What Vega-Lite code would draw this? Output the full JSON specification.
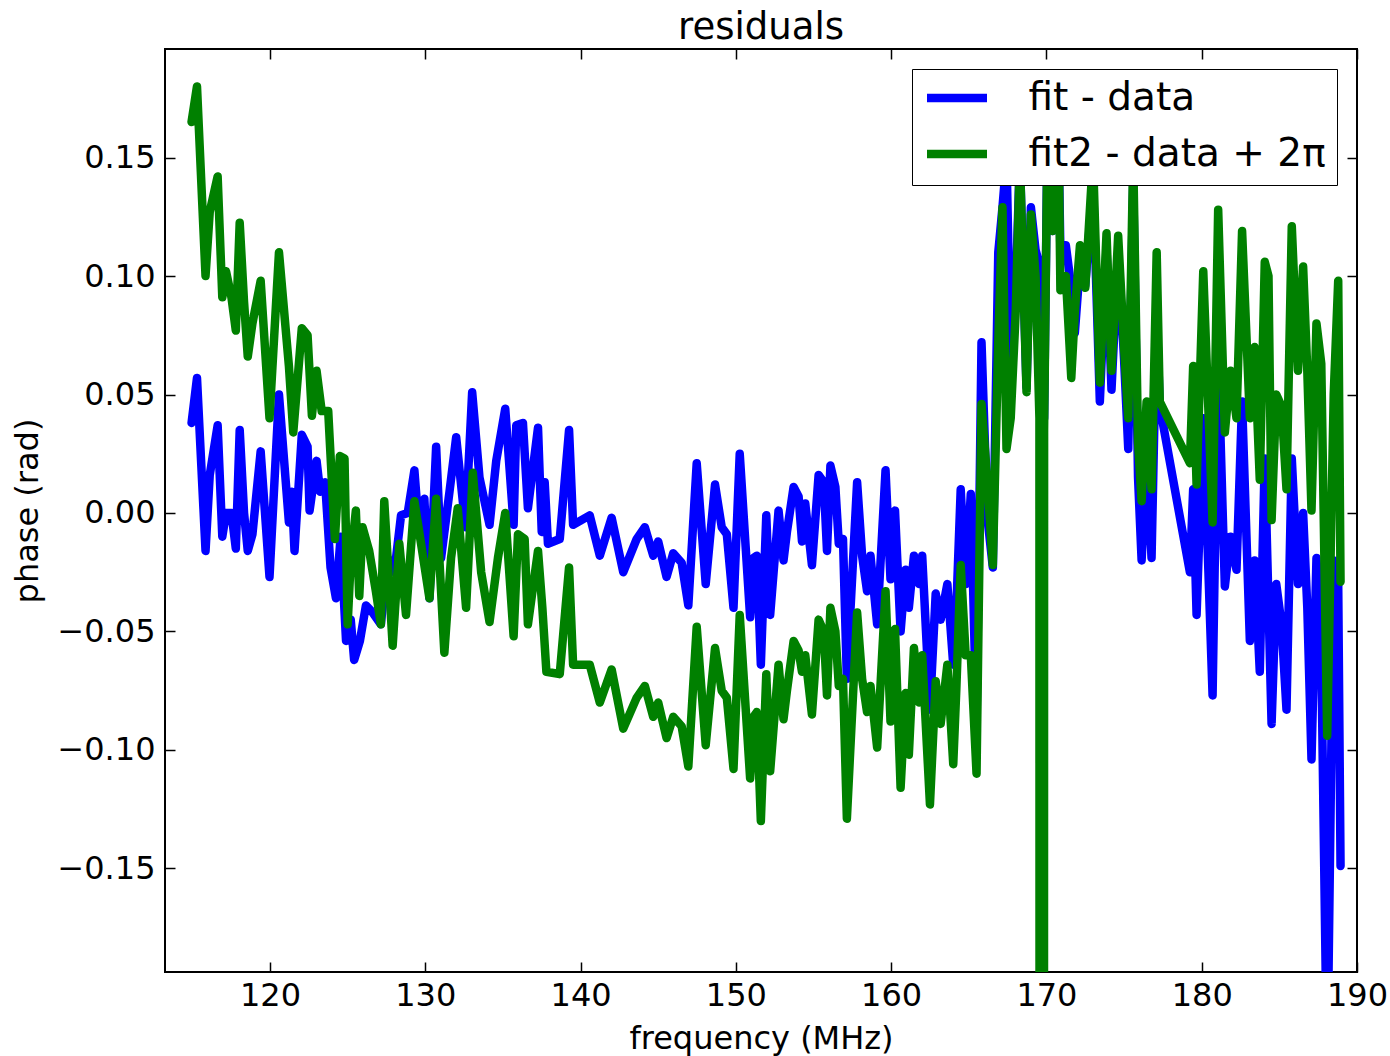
{
"$schema":"https://vega.github.io/schema/vega-lite/v6.json",
"width":1192,"height":923,
"autosize":{"type":"none"},
"padding":{"left":165,"top":49,"right":33,"bottom":84},
"background":"white",
"title":{"text":"residuals","fontSize":37,"fontWeight":"normal","font":"DejaVu Sans","color":"black","offset":1,"anchor":"middle"},
"config":{"view":{"stroke":"black","strokeWidth":2},"font":"DejaVu Sans","axis":{"labelFont":"DejaVu Sans","titleFont":"DejaVu Sans"}},
"data":{"values":[
{"freq":114.95,"series":"fit - data","phase":0.038},{"freq":115.3,"series":"fit - data","phase":0.057},{"freq":115.85,"series":"fit - data","phase":-0.016},{"freq":116.12,"series":"fit - data","phase":0.016},{"freq":116.63,"series":"fit - data","phase":0.037},{"freq":116.93,"series":"fit - data","phase":-0.010},{"freq":117.17,"series":"fit - data","phase":0.000},{"freq":117.52,"series":"fit - data","phase":0.000},{"freq":117.8,"series":"fit - data","phase":-0.015},{"freq":118.05,"series":"fit - data","phase":0.035},{"freq":118.33,"series":"fit - data","phase":0.000},{"freq":118.57,"series":"fit - data","phase":-0.016},{"freq":118.87,"series":"fit - data","phase":-0.009},{"freq":119.4,"series":"fit - data","phase":0.026},{"freq":119.97,"series":"fit - data","phase":-0.027},{"freq":120.58,"series":"fit - data","phase":0.050},{"freq":121.22,"series":"fit - data","phase":-0.004},{"freq":121.4,"series":"fit - data","phase":0.009},{"freq":121.58,"series":"fit - data","phase":-0.016},{"freq":122.05,"series":"fit - data","phase":0.033},{"freq":122.42,"series":"fit - data","phase":0.028},{"freq":122.55,"series":"fit - data","phase":0.001},{"freq":123.0,"series":"fit - data","phase":0.022},{"freq":123.23,"series":"fit - data","phase":0.009},{"freq":123.55,"series":"fit - data","phase":0.013},{"freq":123.9,"series":"fit - data","phase":-0.023},{"freq":124.25,"series":"fit - data","phase":-0.036},{"freq":124.55,"series":"fit - data","phase":-0.010},{"freq":124.9,"series":"fit - data","phase":-0.054},{"freq":125.2,"series":"fit - data","phase":-0.045},{"freq":125.42,"series":"fit - data","phase":-0.062},{"freq":125.79,"series":"fit - data","phase":-0.054},{"freq":126.18,"series":"fit - data","phase":-0.039},{"freq":126.61,"series":"fit - data","phase":-0.042},{"freq":127.14,"series":"fit - data","phase":-0.047},{"freq":127.58,"series":"fit - data","phase":-0.019},{"freq":128.01,"series":"fit - data","phase":-0.025},{"freq":128.44,"series":"fit - data","phase":-0.001},{"freq":128.87,"series":"fit - data","phase":0.000},{"freq":129.3,"series":"fit - data","phase":0.018},{"freq":129.62,"series":"fit - data","phase":-0.009},{"freq":129.94,"series":"fit - data","phase":0.006},{"freq":130.27,"series":"fit - data","phase":-0.036},{"freq":130.7,"series":"fit - data","phase":0.028},{"freq":131.02,"series":"fit - data","phase":-0.019},{"freq":131.56,"series":"fit - data","phase":0.009},{"freq":131.99,"series":"fit - data","phase":0.032},{"freq":132.59,"series":"fit - data","phase":-0.006},{"freq":133.02,"series":"fit - data","phase":0.051},{"freq":133.49,"series":"fit - data","phase":0.015},{"freq":134.14,"series":"fit - data","phase":-0.005},{"freq":134.57,"series":"fit - data","phase":0.022},{"freq":135.15,"series":"fit - data","phase":0.044},{"freq":135.69,"series":"fit - data","phase":-0.005},{"freq":135.86,"series":"fit - data","phase":0.037},{"freq":136.29,"series":"fit - data","phase":0.038},{"freq":136.61,"series":"fit - data","phase":0.002},{"freq":137.26,"series":"fit - data","phase":0.036},{"freq":137.5,"series":"fit - data","phase":-0.008},{"freq":137.69,"series":"fit - data","phase":0.013},{"freq":137.9,"series":"fit - data","phase":-0.013},{"freq":138.66,"series":"fit - data","phase":-0.011},{"freq":139.26,"series":"fit - data","phase":0.035},{"freq":139.52,"series":"fit - data","phase":-0.005},{"freq":140.59,"series":"fit - data","phase":-0.001},{"freq":141.24,"series":"fit - data","phase":-0.018},{"freq":142.0,"series":"fit - data","phase":-0.002},{"freq":142.75,"series":"fit - data","phase":-0.025},{"freq":143.61,"series":"fit - data","phase":-0.011},{"freq":144.14,"series":"fit - data","phase":-0.006},{"freq":144.68,"series":"fit - data","phase":-0.018},{"freq":145.0,"series":"fit - data","phase":-0.012},{"freq":145.54,"series":"fit - data","phase":-0.027},{"freq":145.97,"series":"fit - data","phase":-0.017},{"freq":146.51,"series":"fit - data","phase":-0.021},{"freq":146.94,"series":"fit - data","phase":-0.039},{"freq":147.48,"series":"fit - data","phase":0.021},{"freq":148.06,"series":"fit - data","phase":-0.030},{"freq":148.66,"series":"fit - data","phase":0.012},{"freq":149.09,"series":"fit - data","phase":-0.006},{"freq":149.42,"series":"fit - data","phase":-0.009},{"freq":149.85,"series":"fit - data","phase":-0.040},{"freq":150.25,"series":"fit - data","phase":0.025},{"freq":150.92,"series":"fit - data","phase":-0.044},{"freq":151.14,"series":"fit - data","phase":-0.019},{"freq":151.35,"series":"fit - data","phase":-0.018},{"freq":151.61,"series":"fit - data","phase":-0.064},{"freq":151.96,"series":"fit - data","phase":-0.001},{"freq":152.21,"series":"fit - data","phase":-0.043},{"freq":152.75,"series":"fit - data","phase":0.001},{"freq":153.07,"series":"fit - data","phase":-0.020},{"freq":153.29,"series":"fit - data","phase":-0.008},{"freq":153.72,"series":"fit - data","phase":0.011},{"freq":154.04,"series":"fit - data","phase":0.007},{"freq":154.26,"series":"fit - data","phase":-0.012},{"freq":154.47,"series":"fit - data","phase":0.004},{"freq":154.9,"series":"fit - data","phase":-0.022},{"freq":155.33,"series":"fit - data","phase":0.016},{"freq":155.66,"series":"fit - data","phase":0.013},{"freq":155.87,"series":"fit - data","phase":-0.016},{"freq":156.09,"series":"fit - data","phase":0.020},{"freq":156.41,"series":"fit - data","phase":0.011},{"freq":156.63,"series":"fit - data","phase":-0.013},{"freq":156.9,"series":"fit - data","phase":-0.011},{"freq":157.15,"series":"fit - data","phase":-0.070},{"freq":157.81,"series":"fit - data","phase":0.013},{"freq":158.13,"series":"fit - data","phase":-0.018},{"freq":158.45,"series":"fit - data","phase":-0.033},{"freq":158.67,"series":"fit - data","phase":-0.018},{"freq":159.1,"series":"fit - data","phase":-0.047},{"freq":159.64,"series":"fit - data","phase":0.018},{"freq":159.96,"series":"fit - data","phase":-0.028},{"freq":160.25,"series":"fit - data","phase":0.001},{"freq":160.61,"series":"fit - data","phase":-0.050},{"freq":160.93,"series":"fit - data","phase":-0.024},{"freq":161.14,"series":"fit - data","phase":-0.040},{"freq":161.47,"series":"fit - data","phase":-0.018},{"freq":161.8,"series":"fit - data","phase":-0.030},{"freq":162.0,"series":"fit - data","phase":-0.018},{"freq":162.5,"series":"fit - data","phase":-0.083},{"freq":162.87,"series":"fit - data","phase":-0.034},{"freq":163.19,"series":"fit - data","phase":-0.045},{"freq":163.62,"series":"fit - data","phase":-0.030},{"freq":164.0,"series":"fit - data","phase":-0.064},{"freq":164.2,"series":"fit - data","phase":-0.040},{"freq":164.48,"series":"fit - data","phase":0.010},{"freq":164.8,"series":"fit - data","phase":-0.030},{"freq":165.13,"series":"fit - data","phase":0.008},{"freq":165.5,"series":"fit - data","phase":-0.090},{"freq":165.82,"series":"fit - data","phase":0.072},{"freq":166.2,"series":"fit - data","phase":-0.002},{"freq":166.55,"series":"fit - data","phase":-0.023},{"freq":166.9,"series":"fit - data","phase":0.110},{"freq":167.17,"series":"fit - data","phase":0.129},{"freq":167.43,"series":"fit - data","phase":0.150},{"freq":167.7,"series":"fit - data","phase":0.063},{"freq":168.03,"series":"fit - data","phase":0.095},{"freq":168.29,"series":"fit - data","phase":0.150},{"freq":168.72,"series":"fit - data","phase":0.053},{"freq":169.0,"series":"fit - data","phase":0.129},{"freq":169.3,"series":"fit - data","phase":0.111},{"freq":169.55,"series":"fit - data","phase":0.105},{"freq":169.7,"series":"fit - data","phase":0.050},{"freq":169.85,"series":"fit - data","phase":0.040},{"freq":170.05,"series":"fit - data","phase":0.150},{"freq":170.4,"series":"fit - data","phase":0.119},{"freq":170.8,"series":"fit - data","phase":0.150},{"freq":170.9,"series":"fit - data","phase":0.110},{"freq":171.25,"series":"fit - data","phase":0.113},{"freq":171.6,"series":"fit - data","phase":0.095},{"freq":171.83,"series":"fit - data","phase":0.076},{"freq":172.16,"series":"fit - data","phase":0.105},{"freq":172.5,"series":"fit - data","phase":0.096},{"freq":173.0,"series":"fit - data","phase":0.140},{"freq":173.44,"series":"fit - data","phase":0.047},{"freq":173.87,"series":"fit - data","phase":0.112},{"freq":174.19,"series":"fit - data","phase":0.052},{"freq":174.62,"series":"fit - data","phase":0.110},{"freq":175.0,"series":"fit - data","phase":0.065},{"freq":175.27,"series":"fit - data","phase":0.027},{"freq":175.59,"series":"fit - data","phase":0.140},{"freq":175.9,"series":"fit - data","phase":0.015},{"freq":176.13,"series":"fit - data","phase":-0.020},{"freq":176.45,"series":"fit - data","phase":0.025},{"freq":176.77,"series":"fit - data","phase":-0.019},{"freq":177.1,"series":"fit - data","phase":0.085},{"freq":177.3,"series":"fit - data","phase":0.045},{"freq":179.24,"series":"fit - data","phase":-0.025},{"freq":179.45,"series":"fit - data","phase":0.010},{"freq":179.67,"series":"fit - data","phase":-0.043},{"freq":180.1,"series":"fit - data","phase":0.040},{"freq":180.7,"series":"fit - data","phase":-0.077},{"freq":181.06,"series":"fit - data","phase":0.066},{"freq":181.49,"series":"fit - data","phase":-0.031},{"freq":181.85,"series":"fit - data","phase":-0.010},{"freq":182.24,"series":"fit - data","phase":-0.024},{"freq":182.6,"series":"fit - data","phase":0.047},{"freq":183.1,"series":"fit - data","phase":-0.054},{"freq":183.4,"series":"fit - data","phase":-0.020},{"freq":183.74,"series":"fit - data","phase":-0.067},{"freq":184.06,"series":"fit - data","phase":0.023},{"freq":184.5,"series":"fit - data","phase":-0.089},{"freq":184.8,"series":"fit - data","phase":-0.030},{"freq":185.14,"series":"fit - data","phase":-0.047},{"freq":185.46,"series":"fit - data","phase":-0.083},{"freq":185.8,"series":"fit - data","phase":0.023},{"freq":186.2,"series":"fit - data","phase":-0.030},{"freq":186.53,"series":"fit - data","phase":0.000},{"freq":186.8,"series":"fit - data","phase":-0.040},{"freq":187.07,"series":"fit - data","phase":-0.104},{"freq":187.39,"series":"fit - data","phase":-0.019},{"freq":187.7,"series":"fit - data","phase":-0.060},{"freq":188.08,"series":"fit - data","phase":-0.240},{"freq":188.5,"series":"fit - data","phase":-0.020},{"freq":188.79,"series":"fit - data","phase":-0.030},{"freq":188.94,"series":"fit - data","phase":-0.149},
{"freq":114.95,"series":"fit2 - data + 2π","phase":0.165},{"freq":115.3,"series":"fit2 - data + 2π","phase":0.180},{"freq":115.85,"series":"fit2 - data + 2π","phase":0.100},{"freq":116.12,"series":"fit2 - data + 2π","phase":0.127},{"freq":116.63,"series":"fit2 - data + 2π","phase":0.142},{"freq":116.93,"series":"fit2 - data + 2π","phase":0.091},{"freq":117.17,"series":"fit2 - data + 2π","phase":0.102},{"freq":117.52,"series":"fit2 - data + 2π","phase":0.091},{"freq":117.8,"series":"fit2 - data + 2π","phase":0.077},{"freq":118.05,"series":"fit2 - data + 2π","phase":0.1225},{"freq":118.33,"series":"fit2 - data + 2π","phase":0.089},{"freq":118.57,"series":"fit2 - data + 2π","phase":0.066},{"freq":118.87,"series":"fit2 - data + 2π","phase":0.080},{"freq":119.4,"series":"fit2 - data + 2π","phase":0.098},{"freq":119.97,"series":"fit2 - data + 2π","phase":0.040},{"freq":120.58,"series":"fit2 - data + 2π","phase":0.110},{"freq":121.22,"series":"fit2 - data + 2π","phase":0.062},{"freq":121.5,"series":"fit2 - data + 2π","phase":0.034},{"freq":122.05,"series":"fit2 - data + 2π","phase":0.078},{"freq":122.42,"series":"fit2 - data + 2π","phase":0.075},{"freq":122.7,"series":"fit2 - data + 2π","phase":0.041},{"freq":123.0,"series":"fit2 - data + 2π","phase":0.060},{"freq":123.33,"series":"fit2 - data + 2π","phase":0.043},{"freq":123.75,"series":"fit2 - data + 2π","phase":0.043},{"freq":124.18,"series":"fit2 - data + 2π","phase":-0.011},{"freq":124.5,"series":"fit2 - data + 2π","phase":0.024},{"freq":124.8,"series":"fit2 - data + 2π","phase":0.023},{"freq":125.0,"series":"fit2 - data + 2π","phase":-0.047},{"freq":125.2,"series":"fit2 - data + 2π","phase":-0.020},{"freq":125.53,"series":"fit2 - data + 2π","phase":0.001},{"freq":125.75,"series":"fit2 - data + 2π","phase":-0.035},{"freq":125.96,"series":"fit2 - data + 2π","phase":-0.006},{"freq":126.39,"series":"fit2 - data + 2π","phase":-0.016},{"freq":126.82,"series":"fit2 - data + 2π","phase":-0.033},{"freq":127.14,"series":"fit2 - data + 2π","phase":-0.047},{"freq":127.36,"series":"fit2 - data + 2π","phase":0.005},{"freq":127.9,"series":"fit2 - data + 2π","phase":-0.056},{"freq":128.33,"series":"fit2 - data + 2π","phase":-0.013},{"freq":128.76,"series":"fit2 - data + 2π","phase":-0.043},{"freq":129.3,"series":"fit2 - data + 2π","phase":0.005},{"freq":129.73,"series":"fit2 - data + 2π","phase":-0.013},{"freq":130.27,"series":"fit2 - data + 2π","phase":-0.036},{"freq":130.7,"series":"fit2 - data + 2π","phase":0.006},{"freq":131.23,"series":"fit2 - data + 2π","phase":-0.059},{"freq":131.66,"series":"fit2 - data + 2π","phase":-0.019},{"freq":132.09,"series":"fit2 - data + 2π","phase":0.002},{"freq":132.63,"series":"fit2 - data + 2π","phase":-0.040},{"freq":133.06,"series":"fit2 - data + 2π","phase":0.017},{"freq":133.6,"series":"fit2 - data + 2π","phase":-0.025},{"freq":134.14,"series":"fit2 - data + 2π","phase":-0.046},{"freq":134.68,"series":"fit2 - data + 2π","phase":-0.019},{"freq":135.15,"series":"fit2 - data + 2π","phase":0.000},{"freq":135.69,"series":"fit2 - data + 2π","phase":-0.052},{"freq":135.97,"series":"fit2 - data + 2π","phase":-0.009},{"freq":136.4,"series":"fit2 - data + 2π","phase":-0.011},{"freq":136.61,"series":"fit2 - data + 2π","phase":-0.047},{"freq":137.26,"series":"fit2 - data + 2π","phase":-0.016},{"freq":137.54,"series":"fit2 - data + 2π","phase":-0.040},{"freq":137.8,"series":"fit2 - data + 2π","phase":-0.067},{"freq":138.66,"series":"fit2 - data + 2π","phase":-0.068},{"freq":139.26,"series":"fit2 - data + 2π","phase":-0.023},{"freq":139.52,"series":"fit2 - data + 2π","phase":-0.064},{"freq":140.59,"series":"fit2 - data + 2π","phase":-0.064},{"freq":141.24,"series":"fit2 - data + 2π","phase":-0.080},{"freq":142.0,"series":"fit2 - data + 2π","phase":-0.066},{"freq":142.75,"series":"fit2 - data + 2π","phase":-0.091},{"freq":143.61,"series":"fit2 - data + 2π","phase":-0.078},{"freq":144.14,"series":"fit2 - data + 2π","phase":-0.073},{"freq":144.68,"series":"fit2 - data + 2π","phase":-0.086},{"freq":145.0,"series":"fit2 - data + 2π","phase":-0.080},{"freq":145.54,"series":"fit2 - data + 2π","phase":-0.095},{"freq":145.97,"series":"fit2 - data + 2π","phase":-0.086},{"freq":146.51,"series":"fit2 - data + 2π","phase":-0.090},{"freq":146.94,"series":"fit2 - data + 2π","phase":-0.107},{"freq":147.48,"series":"fit2 - data + 2π","phase":-0.048},{"freq":148.06,"series":"fit2 - data + 2π","phase":-0.098},{"freq":148.66,"series":"fit2 - data + 2π","phase":-0.057},{"freq":149.09,"series":"fit2 - data + 2π","phase":-0.075},{"freq":149.42,"series":"fit2 - data + 2π","phase":-0.078},{"freq":149.85,"series":"fit2 - data + 2π","phase":-0.108},{"freq":150.25,"series":"fit2 - data + 2π","phase":-0.043},{"freq":150.92,"series":"fit2 - data + 2π","phase":-0.112},{"freq":151.14,"series":"fit2 - data + 2π","phase":-0.086},{"freq":151.35,"series":"fit2 - data + 2π","phase":-0.084},{"freq":151.61,"series":"fit2 - data + 2π","phase":-0.130},{"freq":151.96,"series":"fit2 - data + 2π","phase":-0.068},{"freq":152.21,"series":"fit2 - data + 2π","phase":-0.109},{"freq":152.75,"series":"fit2 - data + 2π","phase":-0.064},{"freq":153.07,"series":"fit2 - data + 2π","phase":-0.087},{"freq":153.29,"series":"fit2 - data + 2π","phase":-0.075},{"freq":153.72,"series":"fit2 - data + 2π","phase":-0.054},{"freq":154.04,"series":"fit2 - data + 2π","phase":-0.058},{"freq":154.26,"series":"fit2 - data + 2π","phase":-0.067},{"freq":154.47,"series":"fit2 - data + 2π","phase":-0.060},{"freq":154.9,"series":"fit2 - data + 2π","phase":-0.085},{"freq":155.33,"series":"fit2 - data + 2π","phase":-0.045},{"freq":155.66,"series":"fit2 - data + 2π","phase":-0.050},{"freq":155.87,"series":"fit2 - data + 2π","phase":-0.077},{"freq":156.09,"series":"fit2 - data + 2π","phase":-0.040},{"freq":156.41,"series":"fit2 - data + 2π","phase":-0.050},{"freq":156.63,"series":"fit2 - data + 2π","phase":-0.073},{"freq":156.9,"series":"fit2 - data + 2π","phase":-0.070},{"freq":157.15,"series":"fit2 - data + 2π","phase":-0.129},{"freq":157.81,"series":"fit2 - data + 2π","phase":-0.042},{"freq":158.13,"series":"fit2 - data + 2π","phase":-0.070},{"freq":158.45,"series":"fit2 - data + 2π","phase":-0.084},{"freq":158.67,"series":"fit2 - data + 2π","phase":-0.073},{"freq":159.1,"series":"fit2 - data + 2π","phase":-0.099},{"freq":159.64,"series":"fit2 - data + 2π","phase":-0.033},{"freq":159.96,"series":"fit2 - data + 2π","phase":-0.088},{"freq":160.25,"series":"fit2 - data + 2π","phase":-0.049},{"freq":160.61,"series":"fit2 - data + 2π","phase":-0.116},{"freq":160.93,"series":"fit2 - data + 2π","phase":-0.076},{"freq":161.14,"series":"fit2 - data + 2π","phase":-0.102},{"freq":161.47,"series":"fit2 - data + 2π","phase":-0.057},{"freq":161.8,"series":"fit2 - data + 2π","phase":-0.080},{"freq":162.0,"series":"fit2 - data + 2π","phase":-0.060},{"freq":162.5,"series":"fit2 - data + 2π","phase":-0.123},{"freq":162.87,"series":"fit2 - data + 2π","phase":-0.071},{"freq":163.19,"series":"fit2 - data + 2π","phase":-0.089},{"freq":163.62,"series":"fit2 - data + 2π","phase":-0.064},{"freq":164.0,"series":"fit2 - data + 2π","phase":-0.106},{"freq":164.2,"series":"fit2 - data + 2π","phase":-0.074},{"freq":164.48,"series":"fit2 - data + 2π","phase":-0.022},{"freq":164.8,"series":"fit2 - data + 2π","phase":-0.060},{"freq":165.13,"series":"fit2 - data + 2π","phase":-0.060},{"freq":165.5,"series":"fit2 - data + 2π","phase":-0.110},{"freq":165.82,"series":"fit2 - data + 2π","phase":0.046},{"freq":166.2,"series":"fit2 - data + 2π","phase":0.013},{"freq":166.55,"series":"fit2 - data + 2π","phase":-0.022},{"freq":166.9,"series":"fit2 - data + 2π","phase":0.072},{"freq":167.17,"series":"fit2 - data + 2π","phase":0.129},{"freq":167.43,"series":"fit2 - data + 2π","phase":0.027},{"freq":167.7,"series":"fit2 - data + 2π","phase":0.040},{"freq":168.03,"series":"fit2 - data + 2π","phase":0.086},{"freq":168.29,"series":"fit2 - data + 2π","phase":0.150},{"freq":168.72,"series":"fit2 - data + 2π","phase":0.051},{"freq":169.0,"series":"fit2 - data + 2π","phase":0.126},{"freq":169.3,"series":"fit2 - data + 2π","phase":0.100},{"freq":169.55,"series":"fit2 - data + 2π","phase":0.040},{"freq":169.7,"series":"fit2 - data + 2π","phase":-6.0},{"freq":169.85,"series":"fit2 - data + 2π","phase":0.035},{"freq":170.05,"series":"fit2 - data + 2π","phase":0.150},{"freq":170.4,"series":"fit2 - data + 2π","phase":0.119},{"freq":170.8,"series":"fit2 - data + 2π","phase":0.150},{"freq":170.9,"series":"fit2 - data + 2π","phase":0.094},{"freq":171.25,"series":"fit2 - data + 2π","phase":0.100},{"freq":171.6,"series":"fit2 - data + 2π","phase":0.057},{"freq":171.83,"series":"fit2 - data + 2π","phase":0.085},{"freq":172.16,"series":"fit2 - data + 2π","phase":0.113},{"freq":172.5,"series":"fit2 - data + 2π","phase":0.095},{"freq":173.0,"series":"fit2 - data + 2π","phase":0.150},{"freq":173.44,"series":"fit2 - data + 2π","phase":0.055},{"freq":173.87,"series":"fit2 - data + 2π","phase":0.118},{"freq":174.19,"series":"fit2 - data + 2π","phase":0.060},{"freq":174.62,"series":"fit2 - data + 2π","phase":0.117},{"freq":175.0,"series":"fit2 - data + 2π","phase":0.070},{"freq":175.27,"series":"fit2 - data + 2π","phase":0.040},{"freq":175.59,"series":"fit2 - data + 2π","phase":0.150},{"freq":175.9,"series":"fit2 - data + 2π","phase":0.030},{"freq":176.13,"series":"fit2 - data + 2π","phase":0.005},{"freq":176.45,"series":"fit2 - data + 2π","phase":0.047},{"freq":176.77,"series":"fit2 - data + 2π","phase":0.010},{"freq":177.1,"series":"fit2 - data + 2π","phase":0.110},{"freq":177.3,"series":"fit2 - data + 2π","phase":0.047},{"freq":179.24,"series":"fit2 - data + 2π","phase":0.021},{"freq":179.45,"series":"fit2 - data + 2π","phase":0.062},{"freq":179.67,"series":"fit2 - data + 2π","phase":0.012},{"freq":180.1,"series":"fit2 - data + 2π","phase":0.102},{"freq":180.7,"series":"fit2 - data + 2π","phase":-0.004},{"freq":181.06,"series":"fit2 - data + 2π","phase":0.128},{"freq":181.49,"series":"fit2 - data + 2π","phase":0.034},{"freq":181.85,"series":"fit2 - data + 2π","phase":0.060},{"freq":182.24,"series":"fit2 - data + 2π","phase":0.040},{"freq":182.6,"series":"fit2 - data + 2π","phase":0.119},{"freq":183.1,"series":"fit2 - data + 2π","phase":0.040},{"freq":183.4,"series":"fit2 - data + 2π","phase":0.070},{"freq":183.74,"series":"fit2 - data + 2π","phase":0.014},{"freq":184.06,"series":"fit2 - data + 2π","phase":0.106},{"freq":184.3,"series":"fit2 - data + 2π","phase":0.100},{"freq":184.5,"series":"fit2 - data + 2π","phase":-0.003},{"freq":184.8,"series":"fit2 - data + 2π","phase":0.050},{"freq":185.14,"series":"fit2 - data + 2π","phase":0.045},{"freq":185.46,"series":"fit2 - data + 2π","phase":0.010},{"freq":185.8,"series":"fit2 - data + 2π","phase":0.121},{"freq":186.2,"series":"fit2 - data + 2π","phase":0.060},{"freq":186.53,"series":"fit2 - data + 2π","phase":0.104},{"freq":186.8,"series":"fit2 - data + 2π","phase":0.060},{"freq":187.07,"series":"fit2 - data + 2π","phase":0.001},{"freq":187.39,"series":"fit2 - data + 2π","phase":0.080},{"freq":187.7,"series":"fit2 - data + 2π","phase":0.063},{"freq":188.08,"series":"fit2 - data + 2π","phase":-0.094},{"freq":188.5,"series":"fit2 - data + 2π","phase":0.050},{"freq":188.79,"series":"fit2 - data + 2π","phase":0.098},{"freq":188.94,"series":"fit2 - data + 2π","phase":-0.029}
]},
"layer":[
{"mark":{"type":"line","strokeWidth":8.5,"clip":true,"strokeJoin":"round","strokeCap":"round"},
"encoding":{
"x":{"field":"freq","type":"quantitative","scale":{"domain":[113.24,190],"nice":false,"zero":false},
 "axis":{"orient":"bottom","values":[120,130,140,150,160,170,180,190],"format":"d","grid":false,"domain":false,"offset":-10,"tickSize":10,"tickColor":"black","tickWidth":1.5,"labelFontSize":32,"labelColor":"black","labelPadding":8,"labelFlush":false,"title":"frequency (MHz)","titleFontSize":32,"titleFontWeight":"normal","titleColor":"black","titlePadding":12}},
"y":{"field":"phase","type":"quantitative","scale":{"domain":[-0.1937,0.1958],"nice":false,"zero":false},
 "axis":{"orient":"left","values":[-0.15,-0.1,-0.05,0,0.05,0.1,0.15],"format":".2f","grid":false,"domain":false,"offset":-10,"tickSize":10,"tickColor":"black","tickWidth":1.5,"labelFontSize":32,"labelColor":"black","labelPadding":10,"labelFlush":false,"title":"phase (rad)","titleFontSize":32,"titleFontWeight":"normal","titleColor":"black","titlePadding":12}},
"color":{"field":"series","type":"nominal","scale":{"domain":["fit - data","fit2 - data + 2π"],"range":["#0000ff","#008000"]},
 "legend":{"title":null,"orient":"top-right","offset":20,"fillColor":"white","strokeColor":"black","padding":10.5,"symbolType":"stroke","symbolSize":3600,"symbolStrokeWidth":8.5,"labelFontSize":39,"labelFont":"DejaVu Sans","labelColor":"black","labelOffset":37,"rowPadding":16,"clipHeight":37,"cornerRadius":0,"labelLimit":0}}
}},
{"data":{"values":[{"freq":150,"phase":0}]},
"mark":{"type":"point","opacity":0},
"encoding":{
"x":{"field":"freq","type":"quantitative","axis":{"orient":"top","values":[120,130,140,150,160,170,180,190],"labels":false,"grid":false,"domain":false,"offset":-10,"tickSize":10,"tickColor":"black","tickWidth":1.5,"title":null}},
"y":{"field":"phase","type":"quantitative","axis":{"orient":"right","values":[-0.15,-0.1,-0.05,0,0.05,0.1,0.15],"labels":false,"grid":false,"domain":false,"offset":-10,"tickSize":10,"tickColor":"black","tickWidth":1.5,"title":null}}
}}
],
"resolve":{"axis":{"x":"independent","y":"independent"}}
}
